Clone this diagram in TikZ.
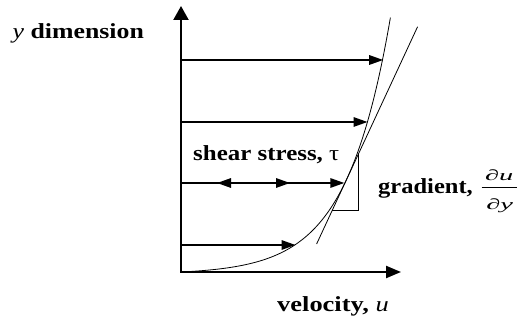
\documentclass[tikz,border=0pt]{standalone}
\usepackage{fontspec}
\setmainfont{Liberation Serif}
\usetikzlibrary{arrows.meta}
\newcommand\widetext[2][1.16]{\scalebox{#1}[1]{#2}}
\newcommand\widefrac[1]{\scalebox{1.9}[1]{#1}}
\begin{document}
\begin{tikzpicture}[x=1pt,y=-1pt,
  axis/.style={line width=2.2pt,{Triangle[length=14pt,width=15pt]}-{Triangle[length=15pt,width=12pt]}},
  vel/.style={line width=1.5pt,-{Triangle[length=14pt,width=9.5pt]}},
  velboth/.style={line width=1.5pt,{Triangle[length=14pt,width=9.5pt]}-{Triangle[length=14pt,width=9.5pt]}},
  thinline/.style={line width=0.8pt},
  lab/.style={inner sep=0pt,font=\fontsize{21.5}{25}\selectfont\bfseries},
  fraclab/.style={inner sep=0pt,font=\fontsize{15}{18}\selectfont\itshape}]
\useasboundingbox (0,0) rectangle (519,320);
% axes
\coordinate (O) at (181,272);
\coordinate (Ytop) at (181,6);
\coordinate (Xend) at (401,272);
\draw[axis] (Ytop) -- (O) -- (Xend);
% velocity arrows
\coordinate (a1) at (181,60);    \coordinate (t1) at (383.2,60);
\coordinate (a2) at (181,122);   \coordinate (t2) at (367.5,122);
\coordinate (a3) at (181,183);   \coordinate (t3) at (344.3,183);
\coordinate (l3) at (217,183);   \coordinate (m3) at (290,183);
\coordinate (a4) at (181,245);   \coordinate (t4) at (295.5,245);
\draw[vel] (a1) -- (t1);
\draw[vel] (a2) -- (t2);
\draw[vel] (a3) -- (t3);
\draw[velboth] (l3) -- (m3);
\draw[vel] (a4) -- (t4);
% velocity profile (logarithmic)
\draw[thinline] plot[domain=0:15.95,samples=160,variable=\t] ({181+44*ln(1+\t*\t/2.2)},{272-\t*\t});
% tangent and gradient triangle
\coordinate (tg1) at (316.6,244);
\coordinate (tg2) at (417.6,26.7);
\draw[thinline] (tg1) -- (tg2);
\coordinate (tr1) at (332.1,210.7);
\coordinate (tr2) at (358.3,210.7);
\coordinate (tr3) at (358.3,154.3);
\draw[thinline] (tr1) -- (tr2) -- (tr3);
% labels
\node[lab,anchor=base west] (ydim) at (12.5,38.3) {\widetext[1.2]{{\mdseries\itshape y} dimension}};
\node[lab,anchor=base west] (shear) at (193,161) {\widetext{shear stress, {\mdseries τ}}};
\node[lab,anchor=base west] (grad) at (378,194) {\widetext[1.14]{gradient,}};
\node[lab,anchor=base west] (velo) at (277,311) {\widetext[1.23]{velocity, {\mdseries\itshape u}}};
\node[fraclab,anchor=base] (num) at (499.2,180.2) {\widefrac{∂u}};
\node[fraclab,anchor=base] (den) at (499.7,210) {\widefrac{∂y}};
\coordinate (bar1) at (481.7,187.7);
\coordinate (bar2) at (516.7,187.7);
\draw[line width=0.8pt] (bar1) -- (bar2);
\end{tikzpicture}
\end{document}
